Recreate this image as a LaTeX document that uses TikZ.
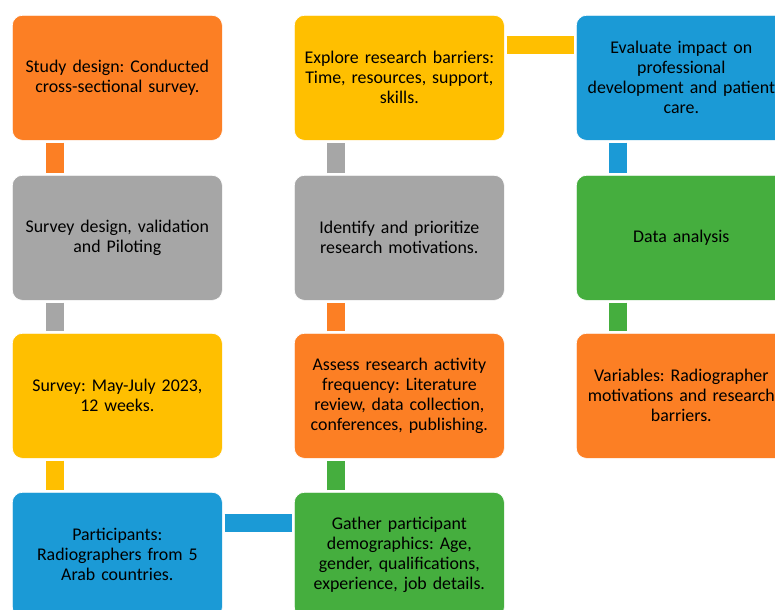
\documentclass[tikz,border=0pt]{standalone}
\usepackage{fontspec}
\setmainfont{Carlito}
\usetikzlibrary{calc}
\definecolor{corange}{HTML}{FC7F24}
\definecolor{cyellow}{HTML}{FFBF00}
\definecolor{cgray}{HTML}{A6A6A6}
\definecolor{cblue}{HTML}{1B9AD6}
\definecolor{cgreen}{HTML}{45AE3E}
\frenchspacing
\tikzset{
  box/.style={anchor=north west, rounded corners=7.5pt, draw=white, line width=0.5pt,
    minimum width=157.5pt, minimum height=93.75pt, inner sep=0pt,
    align=center, text width=156pt, font=\fontsize{13.4}{15}\selectfont\frenchspacing, text=black},
  bar/.style={line width=13.5pt}
}
\begin{document}
\begin{tikzpicture}[x=0.75pt,y=-0.75pt]
\clip (0,0) rectangle (775,610);
\useasboundingbox (0,0) rectangle (775,610);
\fill[white] (0,0) rectangle (775,610);
\node[box, fill=corange] (a1) at (12,15) {Study design: Conducted\\cross-sectional survey.};
\node[box, fill=cgray] (a2) at (12,175) {Survey design, validation\\and Piloting};
\node[box, fill=cyellow] (a3) at (12,333) {Survey: May-July 2023,\\12 weeks.};
\node[box, fill=cblue] (a4) at (12,492) {Participants:\\Radiographers from 5\\Arab countries.};
\node[box, fill=cgreen] (b4) at (294,492) {Gather participant\\demographics: Age,\\gender, qualifications,\\experience, job details.};
\node[box, fill=corange] (b3) at (294,333) {Assess research activity\\frequency: Literature\\review, data collection,\\conferences, publishing.};
\node[box, fill=cgray] (b2) at (294,175) {Identify and prioritize\\research motivations.};
\node[box, fill=cyellow] (b1) at (294,15) {Explore research barriers:\\Time, resources, support,\\skills.};
\node[box, fill=cblue] (c1) at (576,15) {Evaluate impact on\\professional\\development and patient\\care.};
\node[box, fill=cgreen] (c2) at (576,175) {Data analysis};
\node[box, fill=corange] (c3) at (576,333) {Variables: Radiographer\\motivations and research\\barriers.};
% vertical bars
\draw[bar, corange] ($(a1.south west)+(42.5,2)$) -- ($(a2.north west)+(42.5,-2)$);
\draw[bar, cgray] ($(a2.south west)+(42.5,2)$) -- ($(a3.north west)+(42.5,-2)$);
\draw[bar, cyellow] ($(a3.south west)+(42.5,2)$) -- ($(a4.north west)+(42.5,-2)$);
\draw[bar, cgreen] ($(b4.north west)+(42,-2)$) -- ($(b3.south west)+(42,2)$);
\draw[bar, corange] ($(b3.north west)+(42,-2)$) -- ($(b2.south west)+(42,2)$);
\draw[bar, cgray] ($(b2.north west)+(42,-2)$) -- ($(b1.south west)+(42,2)$);
\draw[bar, cblue] ($(c1.south west)+(41.5,2)$) -- ($(c2.north west)+(41.5,-2)$);
\draw[bar, cgreen] ($(c2.south west)+(41.5,2)$) -- ($(c3.north west)+(41.5,-2)$);
% horizontal bars
\draw[bar, cblue] ($(a4.north east)+(2,30.5)$) -- ($(b4.north west)+(-2,30.5)$);
\draw[bar, cyellow] ($(b1.north east)+(2,30)$) -- ($(c1.north west)+(-2,30)$);
\end{tikzpicture}
\end{document}
